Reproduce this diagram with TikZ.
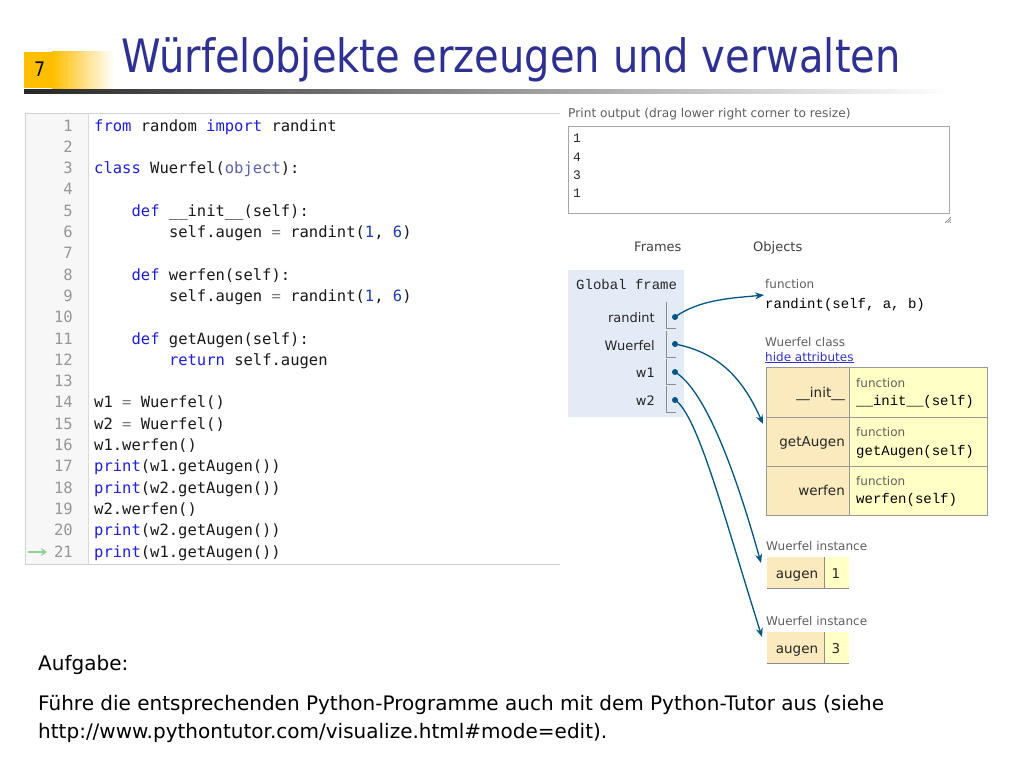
\documentclass[tikz,border=0pt]{standalone}
\usepackage{fontspec}
\setmainfont{DejaVu Sans}
\newfontfamily\codefont{DejaVu Sans Mono}
\newfontfamily\ptmono{Liberation Mono}
\newfontfamily\titlefont{DejaVu Sans}[FakeStretch=0.87]
\newfontfamily\bodyfont{DejaVu Sans}
\usetikzlibrary{arrows.meta}
\definecolor{titleblue}{RGB}{46,49,146}
\definecolor{numorange}{RGB}{255,190,0}
\definecolor{kwc}{RGB}{30,30,220}
\definecolor{objc}{RGB}{95,95,170}
\definecolor{numc}{RGB}{30,60,170}
\definecolor{opc}{RGB}{125,125,125}
\definecolor{codetxt}{RGB}{25,25,25}
\definecolor{lnc}{RGB}{150,150,150}
\definecolor{gutterbg}{RGB}{247,247,247}
\definecolor{frameblue}{RGB}{226,235,246}
\definecolor{heaptan}{RGB}{250,234,190}
\definecolor{heapyel}{RGB}{255,255,198}
\definecolor{ptr}{RGB}{0,85,131}
\definecolor{lblgray}{RGB}{95,95,95}
\definecolor{linkblue}{RGB}{50,50,200}
\newcommand\ckw[1]{\textcolor{kwc}{#1}}
\newcommand\cob[1]{\textcolor{objc}{#1}}
\newcommand\cnm[1]{\textcolor{numc}{#1}}
\newcommand\cop[1]{\textcolor{opc}{#1}}
\begin{document}
\begin{tikzpicture}[x=1pt,y=-1pt,
  codeln/.style={anchor=base west, inner sep=0pt, text=codetxt, font=\codefont\fontsize{15.5}{18}\selectfont},
  lnum/.style={anchor=base east, inner sep=0pt, text=lnc, font=\codefont\fontsize{15.5}{18}\selectfont},
  smalllbl/.style={anchor=base west, inner sep=0pt, text=lblgray, font=\fontsize{12}{14}\selectfont},
  varname/.style={anchor=base east, inner sep=0pt, text=black!85, font=\fontsize{13}{15}\selectfont},
  heapkey/.style={anchor=base east, inner sep=0pt, text=black!85, font=\fontsize{13.5}{15}\selectfont},
  heapmono/.style={anchor=base west, inner sep=0pt, text=black, font=\ptmono\fontsize{14}{16}\selectfont},
  outnum/.style={anchor=base west, inner sep=0pt, text=black!85, font=\ptmono\fontsize{13}{15}\selectfont},
  ptdot/.style={circle, fill=ptr, inner sep=0pt, minimum size=6pt},
  ptarrow/.style={draw=ptr, line width=1.3pt, -{Stealth[length=9pt,width=7pt]}},
  bodytxt/.style={anchor=base west, inner sep=0pt, text=black, font=\bodyfont\fontsize{20}{24}\selectfont}
]
\useasboundingbox (0,0) rectangle (1024,768);
\fill[white] (0,0) rectangle (1024,768);

% title area
\fill[numorange] (24,52) rectangle (52,88);
\shade[left color=numorange, right color=white] (52,52) rectangle (114,88);
\node[anchor=base west, inner sep=0pt, font=\titlefont\fontsize{20}{24}\selectfont] (num) at (34,77) {7};
\shade[left color=black!85, right color=white] (24,89) rectangle (950,93.5);
\node[anchor=base west, inner sep=0pt, text=titleblue, font=\titlefont\fontsize{46}{50}\selectfont] (title) at (121,72) {Würfelobjekte erzeugen und verwalten};

% code box
\fill[gutterbg] (25,113) rectangle (88,564);
\draw[black!18] (560,113) -- (25,113) -- (25,564) -- (560,564);
\draw[black!15] (88,113) -- (88,564);
\foreach \i in {1,...,21} \node[lnum] (ln\i) at (73,{131+(\i-1)*21.3}) {\i};
\draw[draw={rgb,255:red,150;green,205;blue,150}, line width=2pt, -{Stealth[length=6pt,width=8pt]}] (28,552) -- (47,552);

\node[codeln] (c1) at (94,131) {\ckw{from} random \ckw{import} randint};
\node[codeln] (c3) at (94,173.6) {\ckw{class} Wuerfel(\cob{object}):};
\node[codeln] (c5) at (131.4,216.2) {\ckw{def} \_\_init\_\_(self):};
\node[codeln] (c6) at (168.8,237.5) {self.augen \cop{=} randint(\cnm{1}, \cnm{6})};
\node[codeln] (c8) at (131.4,280.1) {\ckw{def} werfen(self):};
\node[codeln] (c9) at (168.8,301.4) {self.augen \cop{=} randint(\cnm{1}, \cnm{6})};
\node[codeln] (c11) at (131.4,344) {\ckw{def} getAugen(self):};
\node[codeln] (c12) at (168.8,365.3) {\ckw{return} self.augen};
\node[codeln] (c14) at (94,407.9) {w1 \cop{=} Wuerfel()};
\node[codeln] (c15) at (94,429.2) {w2 \cop{=} Wuerfel()};
\node[codeln] (c16) at (94,450.5) {w1.werfen()};
\node[codeln] (c17) at (94,471.8) {\ckw{print}(w1.getAugen())};
\node[codeln] (c18) at (94,493.1) {\ckw{print}(w2.getAugen())};
\node[codeln] (c19) at (94,514.4) {w2.werfen()};
\node[codeln] (c20) at (94,535.7) {\ckw{print}(w2.getAugen())};
\node[codeln] (c21) at (94,557) {\ckw{print}(w1.getAugen())};

% print output
\node[anchor=base west, inner sep=0pt, text=lblgray, font=\fontsize{12.2}{14}\selectfont] (plabel) at (568,117.5) {Print output (drag lower right corner to resize)};
\node[draw=black!35, anchor=north west, inner sep=0pt, minimum width=381pt, minimum height=87pt] (pbox) at (568,126) {};
\node[outnum] (o1) at (573,142.5) {1};
\node[outnum] (o2) at (573,161) {4};
\node[outnum] (o3) at (573,179) {3};
\node[outnum] (o4) at (573,197) {1};
\foreach \d in {0,2.5,5} \draw[black!60, line width=0.6pt] (951,{217+\d}) -- ({945+\d},223);

% frames / objects headers
\node[anchor=base west, inner sep=0pt, text=black!75, font=\fontsize{13}{15}\selectfont] (frames) at (634,251) {Frames};
\node[anchor=base west, inner sep=0pt, text=black!75, font=\fontsize{13}{15}\selectfont] (objects) at (753,251) {Objects};

% global frame
\fill[frameblue] (568,270) rectangle (684,417);
\node[anchor=base west, inner sep=0pt, text=black!85, font=\ptmono\fontsize{14}{16}\selectfont] (gf) at (576,289) {Global frame};
\node[varname] (vrandint) at (655,322) {randint};
\node[varname] (vwuerfel) at (655,350) {Wuerfel};
\node[varname] (vw1) at (655,377) {w1};
\node[varname] (vw2) at (655,405) {w2};
\draw[black!45] (666,302) -- (666,328) -- (676,328);
\draw[black!45] (666,331) -- (666,357) -- (676,357);
\draw[black!45] (666,359) -- (666,384) -- (676,384);
\draw[black!45] (666,386) -- (666,412) -- (676,412);
\node[ptdot] (d1) at (675,317) {};
\node[ptdot] (d2) at (675,344) {};
\node[ptdot] (d3) at (675,372) {};
\node[ptdot] (d4) at (675,400) {};

% function object
\node[smalllbl] (fnlbl) at (765,288) {function};
\node[heapmono] (fnrand) at (765,308) {randint(self, a, b)};

% class object
\node[smalllbl] (clslbl) at (765,346) {Wuerfel class};
\node[smalllbl, text=linkblue] (hide) at (765,361) {\underline{hide attributes}};
\fill[heaptan] (766,367) rectangle (849,515);
\fill[heapyel] (849,367) rectangle (987,515);
\draw[black!40] (766,367) rectangle (987,515);
\draw[black!40] (766,417) -- (987,417);
\draw[black!40] (766,466) -- (987,466);
\draw[black!40] (849,367) -- (849,515);
\node[heapkey] (kinit) at (845,397) {\_\_init\_\_};
\node[heapkey] (kget) at (845,446) {getAugen};
\node[heapkey] (kwerf) at (845,495) {werfen};
\node[smalllbl] (f1) at (856,387) {function};
\node[heapmono] (m1) at (856,405) {\_\_init\_\_(self)};
\node[smalllbl] (f2) at (856,436) {function};
\node[heapmono] (m2) at (856,455) {getAugen(self)};
\node[smalllbl] (f3) at (856,485) {function};
\node[heapmono] (m3) at (856,503) {werfen(self)};

% instances
\node[smalllbl] (i1lbl) at (766,550) {Wuerfel instance};
\fill[heaptan] (767,557) rectangle (824,588);
\fill[heapyel] (825,557) rectangle (849,588);
\draw[black!45] (767,588) -- (849,588);
\draw[black!45] (824.5,557) -- (824.5,588);
\node[anchor=base, inner sep=0pt, text=black!85, font=\fontsize{13.5}{15}\selectfont] (i1k) at (797,578) {augen};
\node[anchor=base, inner sep=0pt, text=black!85, font=\fontsize{13.5}{15}\selectfont] (i1v) at (836,578) {1};

\node[smalllbl] (i2lbl) at (766,625) {Wuerfel instance};
\fill[heaptan] (767,632) rectangle (824,663);
\fill[heapyel] (825,632) rectangle (849,663);
\draw[black!45] (767,663) -- (849,663);
\draw[black!45] (824.5,632) -- (824.5,663);
\node[anchor=base, inner sep=0pt, text=black!85, font=\fontsize{13.5}{15}\selectfont] (i2k) at (797,653) {augen};
\node[anchor=base, inner sep=0pt, text=black!85, font=\fontsize{13.5}{15}\selectfont] (i2v) at (836,653) {3};

% pointer targets
\coordinate (tfn) at (764,295);
\coordinate (tcls) at (763,424);
\coordinate (ti1) at (761,563);
\coordinate (ti2) at (762,637);
\draw[ptarrow] (d1.center) .. controls +(25,-18) and +(-30,3) .. (tfn);
\draw[ptarrow] (d2.center) .. controls +(40,8) and +(-22,-50) .. (tcls);
\draw[ptarrow] (d3.center) .. controls (705,390) and (735,470) .. (ti1);
\draw[ptarrow] (d4.center) .. controls (698,415) and (725,520) .. (ti2);

% task text
\node[bodytxt] (aufg) at (38,670) {Aufgabe:};
\node[bodytxt] (t1) at (38,710) {Führe die entsprechenden Python-Programme auch mit dem Python-Tutor aus (siehe};
\node[bodytxt] (t2) at (38,738) {http://www.pythontutor.com/visualize.html\#mode=edit).};
\end{tikzpicture}
\end{document}
